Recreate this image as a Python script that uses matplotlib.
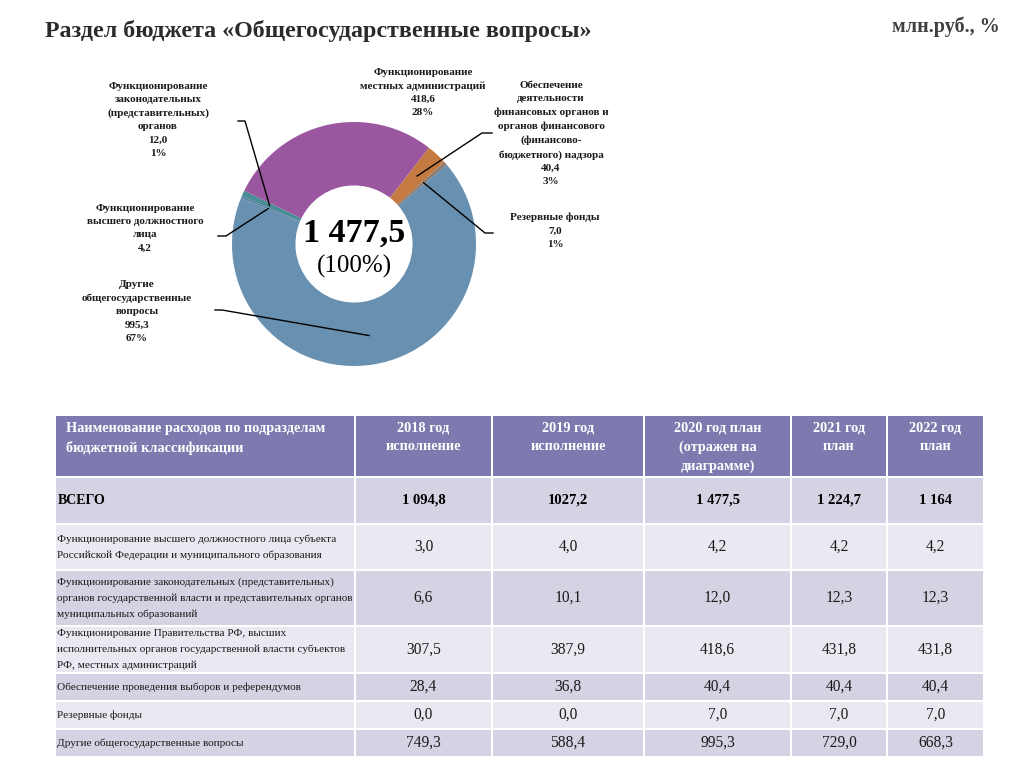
import numpy as np
import matplotlib
matplotlib.use("Agg")
import matplotlib.pyplot as plt
from matplotlib.patches import Rectangle

plt.rcParams['font.family'] = ['Liberation Serif', 'DejaVu Serif']

# ---------------- data ----------------
title = "Раздел бюджета «Общегосударственные вопросы»"
units = "млн.руб., %"

pie_values = [4.2, 12.0, 418.6, 40.4, 7.0, 995.3]
pie_names = [
    "Функционирование\nвысшего должностного\nлица",
    "Функционирование\nзаконодательных\n(представительных)\nорганов",
    "Функционирование\nместных администраций",
    "Обеспечение\nдеятельности\nфинансовых органов и\nорганов финансового\n(финансово-\nбюджетного) надзора",
    "Резервные фонды",
    "Другие\nобщегосударственные\nвопросы",
]
pie_value_text = ["4,2", "12,0", "418,6", "40,4", "7,0", "995,3"]
pie_pct_text = ["", "1%", "28%", "3%", "1%", "67%"]
pie_colors = ["#5B7FA3", "#4A8C95", "#9B56A0", "#C47A40", "#8C7B70", "#6890B0"]
total_text = "1 477,5"
total_pct = "(100%)"

table_header = ["Наименование расходов по подразделам\nбюджетной классификации",
                "2018 год\nисполнение", "2019 год\nисполнение",
                "2020 год план\n(отражен на\nдиаграмме)", "2021 год\nплан", "2022 год\nплан"]
row_names = [
    "ВСЕГО",
    "Функционирование высшего должностного лица субъекта\nРоссийской Федерации и муниципального образования",
    "Функционирование законодательных (представительных)\nорганов государственной власти и представительных органов\nмуниципальных образований",
    "Функционирование Правительства РФ, высших\nисполнительных органов государственной власти субъектов\nРФ, местных администраций",
    "Обеспечение проведения выборов и референдумов",
    "Резервные фонды",
    "Другие общегосударственные вопросы",
]
col_2018 = ["1 094,8", "3,0", "6,6", "307,5", "28,4", "0,0", "749,3"]
col_2019 = ["1027,2", "4,0", "10,1", "387,9", "36,8", "0,0", "588,4"]
col_2020 = ["1 477,5", "4,2", "12,0", "418,6", "40,4", "7,0", "995,3"]
col_2021 = ["1 224,7", "4,2", "12,3", "431,8", "40,4", "7,0", "729,0"]
col_2022 = ["1 164", "4,2", "12,3", "431,8", "40,4", "7,0", "668,3"]

# ---------------- figure ----------------
W, H = 1024, 767
fig = plt.figure(figsize=(W / 100, H / 100), dpi=100)
fig.patch.set_facecolor("white")

# overlay axes in pixel coordinates
ov = fig.add_axes([0, 0, 1, 1])
ov.set_xlim(0, W)
ov.set_ylim(H, 0)
ov.axis("off")

ov.text(45, 31, title, fontsize=17.3, fontweight="bold", color="#2b2b2b",
        ha="left", va="center")
ov.text(1000, 27, units, fontsize=14.5, fontweight="bold", color="#404040",
        ha="right", va="center")

# ---------------- donut ----------------
cx, cy, R = 354, 244, 122
half = 135
pax = fig.add_axes([(cx - half) / W, (H - cy - half) / H, 2 * half / W, 2 * half / H])
lim = half / R
wedges, _ = pax.pie(pie_values, colors=pie_colors, startangle=158, counterclock=False,
                    radius=1.0, wedgeprops=dict(width=0.52, linewidth=0))
pax.set_xlim(-lim, lim)
pax.set_ylim(-lim, lim)
pax.set_aspect("equal")
pax.axis("off")


def px2d(x, y):
    return ((x - cx) / R, (cy - y) / R)


def wedge_point(i, r=0.76):
    w = wedges[i]
    a = np.deg2rad((w.theta1 + w.theta2) / 2)
    return (r * np.cos(a), r * np.sin(a))


pax.text(0, px2d(0, 233)[1], total_text, fontsize=24.5, fontweight="bold",
         ha="center", va="center", color="black")
pax.text(0, px2d(0, 266)[1], total_pct, fontsize=18, ha="center", va="center",
         color="black")

label_pos = {0: (145, 204), 1: (158, 82), 2: (423, 68), 3: (551, 81), 4: (555, 213), 5: (137, 280)}
leaders = {0: [(218, 236), (226, 236)], 1: [(238, 121), (245, 121)],
           3: [(492, 133), (482, 133)], 4: [(493, 233), (485, 233)],
           5: [(215, 310), (222, 310)]}

for i in range(len(pie_values)):
    parts = [pie_names[i], pie_value_text[i]]
    if pie_pct_text[i]:
        parts.append(pie_pct_text[i])
    x, y = label_pos[i]
    dx, dy = px2d(x, y)
    pax.text(dx, dy, "\n".join(parts), fontsize=8, fontweight="bold", ha="center",
             va="top", linespacing=1.6, color="#1a1a1a", clip_on=False)
    if i in leaders:
        pts = [px2d(*p) for p in leaders[i]] + [wedge_point(i)]
        xs, ys = zip(*pts)
        pax.plot(xs, ys, color="black", lw=1.0, clip_on=False)

# ---------------- table ----------------
col_x = [56, 356, 493, 645, 792, 888, 985]
header_y = (416, 476)
row_y = [(478, 523), (525, 569), (571, 625), (627, 672), (674, 700), (702, 728), (730, 756)]
dark = "#D3D3E3"
light = "#E9E9F1"
header_col = "#7C7AAF"
gap = 2

for c in range(6):
    x0, x1 = col_x[c], col_x[c + 1]
    ov.add_patch(Rectangle((x0, header_y[0]), x1 - x0 - gap, header_y[1] - header_y[0],
                           facecolor=header_col, edgecolor="none"))
    if c == 0:
        ov.text(x0 + 10, header_y[0] + 6, table_header[c], fontsize=10.3, fontweight="bold",
                color="white", ha="left", va="top", linespacing=1.55)
    else:
        ov.text((x0 + x1 - gap) / 2, header_y[0] + 6, table_header[c], fontsize=10.3,
                fontweight="bold", color="white", ha="center", va="top", linespacing=1.55)

cols = [col_2018, col_2019, col_2020, col_2021, col_2022]
for r, (y0, y1) in enumerate(row_y):
    fc = dark if r % 2 == 0 else light
    for c in range(6):
        x0, x1 = col_x[c], col_x[c + 1]
        ov.add_patch(Rectangle((x0, y0), x1 - x0 - gap, y1 - y0, facecolor=fc, edgecolor="none"))
    ym = (y0 + y1) / 2
    if r == 0:
        ov.text(col_x[0] + 2, ym, row_names[r], fontsize=10, fontweight="bold",
                ha="left", va="center", color="black")
    else:
        ov.text(col_x[0] + 1, ym, row_names[r], fontsize=8.1, ha="left", va="center",
                color="#1a1a1a", linespacing=1.9)
    for c in range(5):
        x0, x1 = col_x[c + 1], col_x[c + 2]
        if r == 0:
            ov.text((x0 + x1 - gap) / 2, ym, cols[c][r], fontsize=10.5, fontweight="bold",
                    ha="center", va="center", color="black")
        else:
            ov.text((x0 + x1 - gap) / 2, ym, cols[c][r], fontsize=11.2,
                    ha="center", va="center", color="#1a1a1a")

fig.savefig("out.png", dpi=100, facecolor="white")
